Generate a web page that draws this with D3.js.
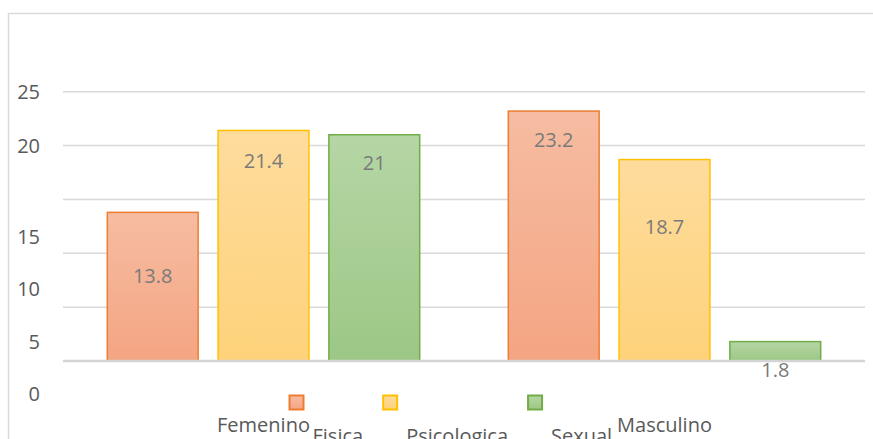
<!DOCTYPE html>
<html>
<head>
<meta charset="utf-8">
<script src="https://cdn.jsdelivr.net/npm/d3@7"></script>
<style>
  body { margin: 0; background: #fff; }
  svg { display: block; font-family: "Open Sans", sans-serif; }
</style>
</head>
<body>
<svg id="chart" width="873" height="439"></svg>
<script>
// datos
var categories = ["Femenino", "Masculino"];
var series = ["Fisica", "Psicologica", "Sexual"];
var values = [
    [13.8, 21.4, 21],   // Femenino
    [23.2, 18.7, 1.8]   // Masculino
];
// donde quedan las etiquetas de datos (en unidades del eje), tal como en el original
var labelAt = [
    [7.9, 18.6, 18.4],
    [20.5, 12.4, -0.85]
];
var gridTicks = [5, 10, 15, 20, 25];
var tickLabels = ["0", "5", "10", "15", "20", "25"];
var tickLabelAt = [-3.1, 1.8, 6.7, 11.5, 20, 25];

var colors = {
    Fisica: { stroke: "#ED7D31", top: "#F6BCA2", bottom: "#F4A582" },
    Psicologica: { stroke: "#FFC000", top: "#FEDC9D", bottom: "#FED27A" },
    Sexual: { stroke: "#70AD47", top: "#B5D6A5", bottom: "#9CC785" }
};

var svg = d3.select("#chart");
var plotLeft = 63, plotRight = 865, plotTop = 91.7, plotBase = 361;

// marco
svg.append("rect")
    .attr("x", 8.5).attr("y", 13.5)
    .attr("width", 880).attr("height", 440)
    .attr("fill", "none")
    .attr("stroke", "#d9d9d9")
    .attr("stroke-width", 1.5);

var y = d3.scaleLinear().domain([0, 25]).range([plotBase, plotTop]);
var x0 = d3.scaleBand().domain(categories).range([plotLeft, plotRight]);
var x1 = d3.scaleBand().domain(series).range([0, x0.bandwidth()]).paddingInner(0.18).paddingOuter(0.4);

// gradientes
var defs = svg.append("defs");
series.forEach(function (s) {
    var g = defs.append("linearGradient")
        .attr("id", "grad_" + s)
        .attr("x1", 0).attr("y1", 0).attr("x2", 0).attr("y2", 1);
    g.append("stop").attr("offset", "0%").attr("stop-color", colors[s].top);
    g.append("stop").attr("offset", "100%").attr("stop-color", colors[s].bottom);
});

// lineas de cuadricula
svg.append("g")
    .selectAll("line")
    .data(gridTicks)
    .join("line")
    .attr("x1", plotLeft).attr("x2", plotRight)
    .attr("y1", d => y(d)).attr("y2", d => y(d))
    .attr("stroke", "#d9d9d9")
    .attr("stroke-width", 1.5);

// barras
var groups = svg.append("g")
    .selectAll("g")
    .data(categories)
    .join("g")
    .attr("transform", d => "translate(" + x0(d) + ",0)");

groups.selectAll("rect")
    .data((c, ci) => series.map((s, si) => ({ s: s, v: values[ci][si] })))
    .join("rect")
    .attr("x", d => x1(d.s))
    .attr("width", x1.bandwidth())
    .attr("y", d => y(d.v))
    .attr("height", d => y(0) - y(d.v))
    .attr("fill", d => "url(#grad_" + d.s + ")")
    .attr("stroke", d => colors[d.s].stroke)
    .attr("stroke-width", 1.5);

// eje base
svg.append("line")
    .attr("x1", plotLeft).attr("x2", plotRight)
    .attr("y1", plotBase).attr("y2", plotBase)
    .attr("stroke", "#d4d4d4")
    .attr("stroke-width", 2.5);

// etiquetas de datos
groups.selectAll("text")
    .data((c, ci) => series.map((s, si) => ({ s: s, v: values[ci][si], at: labelAt[ci][si] })))
    .join("text")
    .attr("x", d => x1(d.s) + x1.bandwidth() / 2)
    .attr("y", d => y(d.at))
    .attr("dy", "0.35em")
    .attr("text-anchor", "middle")
    .attr("font-size", 20)
    .attr("fill", "#7a7a7a")
    .text(d => d.v);

// etiquetas del eje y (desplazadas como en el original)
svg.append("g")
    .selectAll("text")
    .data(tickLabels)
    .join("text")
    .attr("x", 40)
    .attr("y", (d, i) => y(tickLabelAt[i]))
    .attr("dy", "0.35em")
    .attr("text-anchor", "end")
    .attr("font-size", 20)
    .attr("fill", "#595959")
    .text(d => d);

// categorias
svg.append("g")
    .selectAll("text")
    .data(categories)
    .join("text")
    .attr("x", d => x0(d) + x0.bandwidth() / 2)
    .attr("y", 432)
    .attr("text-anchor", "middle")
    .attr("font-size", 20)
    .attr("fill", "#595959")
    .text(d => d);

// leyenda
var legend = svg.append("g");
var lx = 289.5;
series.forEach(function (s) {
    legend.append("rect")
        .attr("x", lx).attr("y", 395.5)
        .attr("width", 14).attr("height", 14)
        .attr("fill", "url(#grad_" + s + ")")
        .attr("stroke", colors[s].stroke)
        .attr("stroke-width", 2);
    var t = legend.append("text")
        .attr("x", lx + 23)
        .attr("y", 443)
        .attr("font-size", 20)
        .attr("fill", "#595959")
        .text(s);
    lx += 23 + t.node().getComputedTextLength() + 20;
});
</script>
</body>
</html>
